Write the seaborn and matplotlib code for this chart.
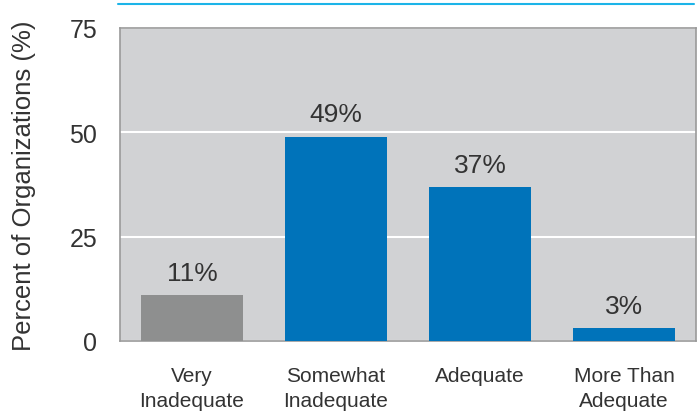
import matplotlib
matplotlib.use("Agg")
import matplotlib.pyplot as plt
from matplotlib.lines import Line2D
import seaborn as sns
import pandas as pd

categories = ["Very\nInadequate", "Somewhat\nInadequate", "Adequate", "More Than\nAdequate"]
values = [11, 49, 37, 3]
labels = ["11%", "49%", "37%", "3%"]
yticks = [0, 25, 50, 75]

sns.set_theme(style="white")
plt.rcParams["font.family"] = ["Liberation Sans", "DejaVu Sans"]

df = pd.DataFrame({"category": categories, "value": values})
colors = ["#8e8f8f", "#0073ba", "#0073ba", "#0073ba"]
text_color = "#333333"

fig = plt.figure(figsize=(6.99, 4.14), dpi=100)
ax = fig.add_axes([120 / 699, 1 - 342 / 414, 576 / 699, 313 / 414])

sns.barplot(data=df, x="category", y="value", hue="category", palette=colors,
            legend=False, width=0.71, saturation=1, linewidth=0, ax=ax, zorder=3)

ax.set_facecolor("#d1d2d4")
ax.set_ylim(0, 75)
ax.set_xlim(-0.5, 3.5)
ax.set_yticks(yticks)
ax.yaxis.grid(True, color="white", linewidth=1.5, zorder=1)
ax.set_axisbelow(True)
for s in ax.spines.values():
    s.set_color("#9a9a9a")
    s.set_linewidth(1.2)

ax.tick_params(axis="y", labelsize=18, labelcolor=text_color, length=0, pad=16.5)
ax.tick_params(axis="x", labelsize=15, labelcolor=text_color, length=0, pad=18)
for t in ax.get_xticklabels():
    t.set_linespacing(1.4)
ax.set_xlabel("")
ax.set_ylabel("Percent of Organizations (%)", fontsize=18.5, color=text_color, labelpad=24)

for i, (v, t) in enumerate(zip(values, labels)):
    ax.text(i, v + 2.4, t, ha="center", va="bottom", fontsize=19, color=text_color, zorder=4)

fig.add_artist(Line2D([118 / 699, 694 / 699], [1 - 5 / 414, 1 - 5 / 414],
                      color="#1cb4e8", linewidth=1.5))

fig.savefig("out.png", dpi=100)
